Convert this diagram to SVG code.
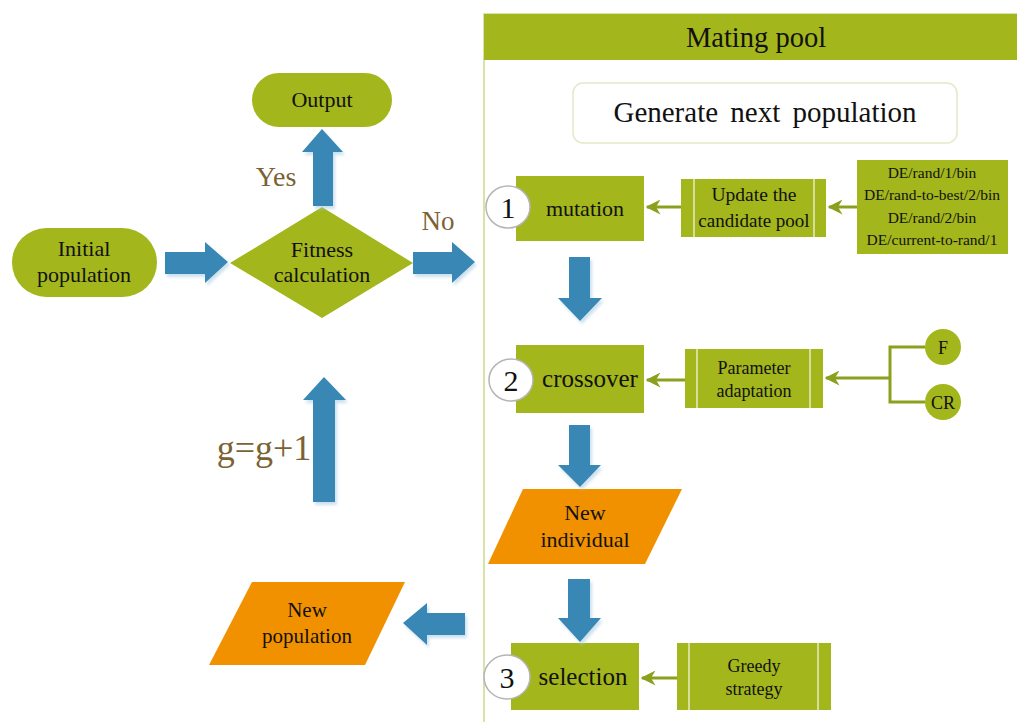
<svg xmlns="http://www.w3.org/2000/svg" width="1017" height="722" viewBox="0 0 1017 722">
<defs>
<style>
text{font-family:"Liberation Serif","Times New Roman",serif;fill:#111;text-anchor:middle}
.g{fill:#a3b61b}
.o{fill:#f29100}
.b{fill:#3787b4;filter:url(#sh)}
.lbl{fill:#7b6232}
.badge{fill:#fff;stroke:#b5b5b5;stroke-width:1.5}
.sep{stroke:#e6edc4;stroke-width:1.5}
.con{stroke:#8ca01e;stroke-width:3;fill:none}
</style>
<filter id="sh" x="-20%" y="-20%" width="150%" height="150%">
<feDropShadow dx="2" dy="3" stdDeviation="1.5" flood-color="#a9cde3" flood-opacity="0.6"/>
</filter>
<marker id="ah" viewBox="0 0 10 10" refX="9" refY="5" markerWidth="5" markerHeight="5" orient="auto" markerUnits="strokeWidth">
<path d="M0,0 L10,5 L0,10 L3,5 Z" fill="#8ca01e"/>
</marker>
</defs>
<rect width="1017" height="722" fill="#fff"/>

<g id="mating-pool">
<rect x="484" y="14" width="540" height="712" fill="none" stroke="#d8e3a8" stroke-width="2"/>
<rect x="484" y="14" width="540" height="46" class="g"/>
<text x="756" y="47" font-size="28.5">Mating pool</text>
</g>

<g id="generate">
<rect x="573" y="83" width="384" height="60" rx="10" fill="#fff" stroke="#e2eac6" stroke-width="1.5"/>
<text x="765" y="122" font-size="29" word-spacing="5">Generate next population</text>
</g>

<g id="initial">
<rect x="12" y="228" width="145" height="69" rx="34.5" class="g"/>
<text x="84" y="256" font-size="22">Initial</text>
<text x="84" y="282" font-size="22">population</text>
</g>

<g id="fitness">
<polygon points="230,263 322,207 413,263 322,318" class="g"/>
<text x="322" y="257" font-size="22">Fitness</text>
<text x="322" y="282" font-size="22">calculation</text>
</g>

<g id="output">
<rect x="252" y="73" width="140" height="54" rx="27" class="g"/>
<text x="322" y="107" font-size="22">Output</text>
</g>

<g id="mutation">
<rect x="516" y="176" width="128" height="65" class="g"/>
<text x="585" y="216" font-size="22">mutation</text>
<ellipse cx="508" cy="207" rx="22" ry="21" class="badge"/>
<text x="508" y="218" font-size="30">1</text>
</g>

<g id="update-pool">
<rect x="681" y="179" width="145" height="58" class="g"/>
<line x1="694" y1="179" x2="694" y2="237" class="sep"/>
<line x1="814" y1="179" x2="814" y2="237" class="sep"/>
<text x="754" y="201" font-size="19.5">Update the</text>
<text x="754" y="227" font-size="19">candidate pool</text>
</g>

<g id="strategies">
<rect x="857" y="160" width="151" height="94" class="g"/>
<text x="932" y="178" font-size="15.5">DE/rand/1/bin</text>
<text x="932" y="200" font-size="15.5">DE/rand-to-best/2/bin</text>
<text x="932" y="223" font-size="15.5">DE/rand/2/bin</text>
<text x="932" y="245" font-size="15.5">DE/current-to-rand/1</text>
</g>

<g id="crossover">
<rect x="516" y="345" width="128" height="68" class="g"/>
<text x="590" y="387" font-size="25">crossover</text>
<ellipse cx="511" cy="380" rx="22" ry="21" class="badge"/>
<text x="511" y="391" font-size="30">2</text>
</g>

<g id="param">
<rect x="685" y="349" width="138" height="59" class="g"/>
<line x1="697" y1="349" x2="697" y2="408" class="sep"/>
<line x1="810" y1="349" x2="810" y2="408" class="sep"/>
<text x="754" y="374" font-size="18">Parameter</text>
<text x="754" y="397" font-size="18">adaptation</text>
</g>

<g id="F">
<circle cx="943" cy="347" r="18" class="g"/>
<text x="943" y="354" font-size="18">F</text>
</g>
<g id="CR">
<circle cx="943" cy="402" r="18" class="g"/>
<text x="943" y="409" font-size="18">CR</text>
</g>

<g id="new-individual">
<polygon points="523,489 682,489 645,564 488,564" class="o"/>
<text x="585" y="520" font-size="22">New</text>
<text x="585" y="547" font-size="22">individual</text>
</g>

<g id="selection">
<rect x="511" y="643" width="128" height="67" class="g"/>
<text x="583" y="685" font-size="25">selection</text>
<ellipse cx="507" cy="677" rx="23" ry="22" class="badge"/>
<text x="507" y="688" font-size="30">3</text>
</g>

<g id="greedy">
<rect x="677" y="643" width="154" height="67" class="g"/>
<line x1="689" y1="643" x2="689" y2="710" class="sep"/>
<line x1="818" y1="643" x2="818" y2="710" class="sep"/>
<text x="754" y="672" font-size="18">Greedy</text>
<text x="754" y="695" font-size="18">strategy</text>
</g>

<g id="new-population">
<polygon points="252,582 405,582 365,665 209,665" class="o"/>
<text x="307" y="617" font-size="21">New</text>
<text x="307" y="643" font-size="21">population</text>
</g>

<g id="connectors">
<polygon points="165,252 205,252 205,242 228,262 205,283 205,274 165,274" class="b"/>
<polygon points="413,252 452,252 452,242 475,262 452,283 452,274 413,274" class="b"/>
<polygon points="313,206 313,152 302,152 322,129 343,152 333,152 333,206" class="b"/>
<polygon points="569,257 590,257 590,298 602,298 580,321 558,298 569,298" class="b"/>
<polygon points="569,425 590,425 590,465 601,465 580,487 558,465 569,465" class="b"/>
<polygon points="568,579 590,579 590,618 601,618 580,642 558,618 568,618" class="b"/>
<polygon points="313,502 313,400 303,400 324,377 346,400 335,400 335,502" class="b"/>
<polygon points="465,613 427,613 427,603 403,623 427,645 427,635 465,635" class="b"/>
<line x1="857" y1="207" x2="829" y2="207" class="con" marker-end="url(#ah)"/>
<line x1="681" y1="207" x2="647" y2="207" class="con" marker-end="url(#ah)"/>
<line x1="685" y1="380" x2="647" y2="380" class="con" marker-end="url(#ah)"/>
<polyline points="925,347 890,347 890,402 925,402" class="con"/>
<line x1="890" y1="378" x2="826" y2="378" class="con" marker-end="url(#ah)"/>
<line x1="677" y1="678" x2="642" y2="678" class="con" marker-end="url(#ah)"/>
<text x="276" y="186" font-size="28" class="lbl" style="fill:#7b6232">Yes</text>
<text x="438" y="230" font-size="27" style="fill:#7b6232">No</text>
<text x="264" y="460" font-size="36" style="fill:#7b6232">g=g+1</text>
</g>
</svg>
